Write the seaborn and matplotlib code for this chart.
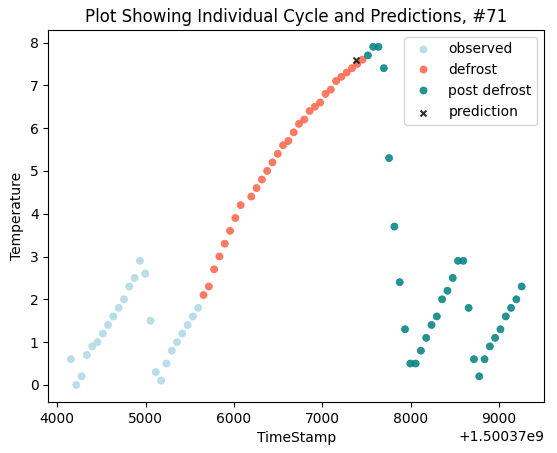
import pandas as pd
import numpy as np
import matplotlib
matplotlib.use('Agg')
import matplotlib.pyplot as plt
import seaborn as sns

# timestamps are seconds, stored as offsets from this base
base_ts = 1500370000

obs_t = [4155, 4215, 4275, 4335, 4395, 4455, 4515, 4575, 4635, 4695,
         4755, 4815, 4875, 4935, 4995, 5055, 5115, 5175, 5235, 5295,
         5355, 5415, 5475, 5535, 5595]
obs_y = [0.6, 0.0, 0.2, 0.7, 0.9, 1.0, 1.2, 1.4, 1.6, 1.8,
         2.0, 2.3, 2.5, 2.9, 2.6, 1.5, 0.3, 0.1, 0.5, 0.8,
         1.0, 1.2, 1.4, 1.6, 1.8]

defrost_t = [5655, 5715, 5775, 5835, 5895, 5955, 6015, 6075, 6195, 6255,
             6315, 6375, 6435, 6495, 6555, 6615, 6675, 6735, 6795, 6855,
             6915, 6975, 7035, 7095, 7155, 7215, 7275, 7335, 7395, 7455]
defrost_y = [2.1, 2.3, 2.7, 3.0, 3.3, 3.6, 3.9, 4.2, 4.4, 4.6,
             4.8, 5.0, 5.2, 5.4, 5.6, 5.7, 5.9, 6.1, 6.2, 6.4,
             6.5, 6.6, 6.8, 6.9, 7.1, 7.2, 7.3, 7.4, 7.5, 7.6]

post_t = [7515, 7575, 7635, 7695, 7755, 7815, 7875, 7935, 7995, 8055,
          8115, 8175, 8235, 8295, 8355, 8415, 8475, 8535, 8595, 8655,
          8715, 8775, 8835, 8895, 8955, 9015, 9075, 9135, 9195, 9255]
post_y = [7.7, 7.9, 7.9, 7.4, 5.3, 3.7, 2.4, 1.3, 0.5, 0.5,
          0.8, 1.1, 1.4, 1.6, 2.0, 2.2, 2.5, 2.9, 2.9, 1.8,
          0.6, 0.2, 0.6, 0.9, 1.1, 1.3, 1.6, 1.8, 2.0, 2.3]

pred_t = [7385]
pred_y = [7.6]

phases = ['observed', 'defrost', 'post defrost']
colors = {'observed': 'lightblue', 'defrost': 'tomato', 'post defrost': 'teal'}

df = pd.DataFrame({
    'TimeStamp': np.array(obs_t + defrost_t + post_t, dtype=np.int64) + base_ts,
    'Temperature': obs_y + defrost_y + post_y,
    'phase': ['observed'] * len(obs_t) + ['defrost'] * len(defrost_t) + ['post defrost'] * len(post_t),
})
pred = pd.DataFrame({'TimeStamp': np.array(pred_t, dtype=np.int64) + base_ts,
                     'Temperature': pred_y})

fig, ax = plt.subplots(figsize=(5.57, 4.53), dpi=100)
fig.subplots_adjust(left=0.087, right=0.977, top=0.934, bottom=0.113)

sns.scatterplot(data=df, x='TimeStamp', y='Temperature', hue='phase',
                hue_order=phases, palette=colors, s=26, linewidth=0.5,
                edgecolor='face', alpha=0.85, ax=ax)
sns.scatterplot(data=pred, x='TimeStamp', y='Temperature', marker='x',
                color='black', s=18, linewidth=1.5, alpha=0.8,
                label='prediction', ax=ax)

ax.legend(loc='upper right')
ax.set_title("Plot Showing Individual Cycle and Predictions, #71")
ax.set_xlabel("TimeStamp")
ax.set_ylabel("Temperature")

fig.savefig('out.png', dpi=100)
